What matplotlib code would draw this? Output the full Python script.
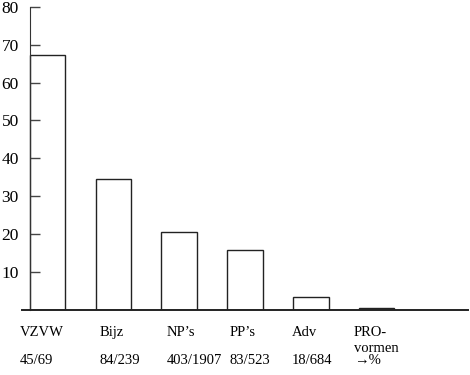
import matplotlib
matplotlib.use('Agg')
import matplotlib.pyplot as plt

plt.rcParams['font.family'] = ['Liberation Serif', 'DejaVu Serif']

# categorieën en percentages
categorieen = ['VZVW', 'Bijz', 'NP’s', 'PP’s', 'Adv', 'PRO-\nvormen']
aantallen = ['45/69', '84/239', '403/1907', '83/523', '18/684', '→%']
percentages = [67.3, 34.5, 20.5, 15.7, 3.4, 0.3]
y_ticks = [10, 20, 30, 40, 50, 60, 70, 80]

fig = plt.figure(figsize=(4.7, 3.75), dpi=100)
ax = fig.add_axes([22 / 470, 65.5 / 375, 446 / 470, 302.5 / 375])

x = list(range(len(categorieen)))
ax.bar(x, percentages, width=0.54, align='edge', facecolor='white',
       edgecolor='#222222', linewidth=1.0)

ax.set_xlim(-0.12, 6.66)
ax.set_ylim(0, 80)

# assen
for side in ['top', 'right']:
    ax.spines[side].set_visible(False)
ax.spines['left'].set_position(('data', 0))
ax.spines['left'].set_color('#333333')
ax.spines['bottom'].set_color('#222222')
ax.spines['bottom'].set_linewidth(1.4)
ax.set_yticks(y_ticks)
ax.tick_params(axis='y', direction='in', length=7, width=1, color='#444444',
               labelsize=12.5, pad=8)
ax.set_xticks([])

# labels onder de staven
offsets = [-0.15, 0.06, 0.08, 0.03, -0.02, -0.08]
for i, (cat, n) in enumerate(zip(categorieen, aantallen)):
    ax.text(i + offsets[i], -4.3, cat, ha='left', va='top', fontsize=10.5,
            linespacing=1.3)
    ax.text(i + offsets[i], -11.9, n, ha='left', va='top', fontsize=10.5)

fig.savefig('out.png', dpi=100)
